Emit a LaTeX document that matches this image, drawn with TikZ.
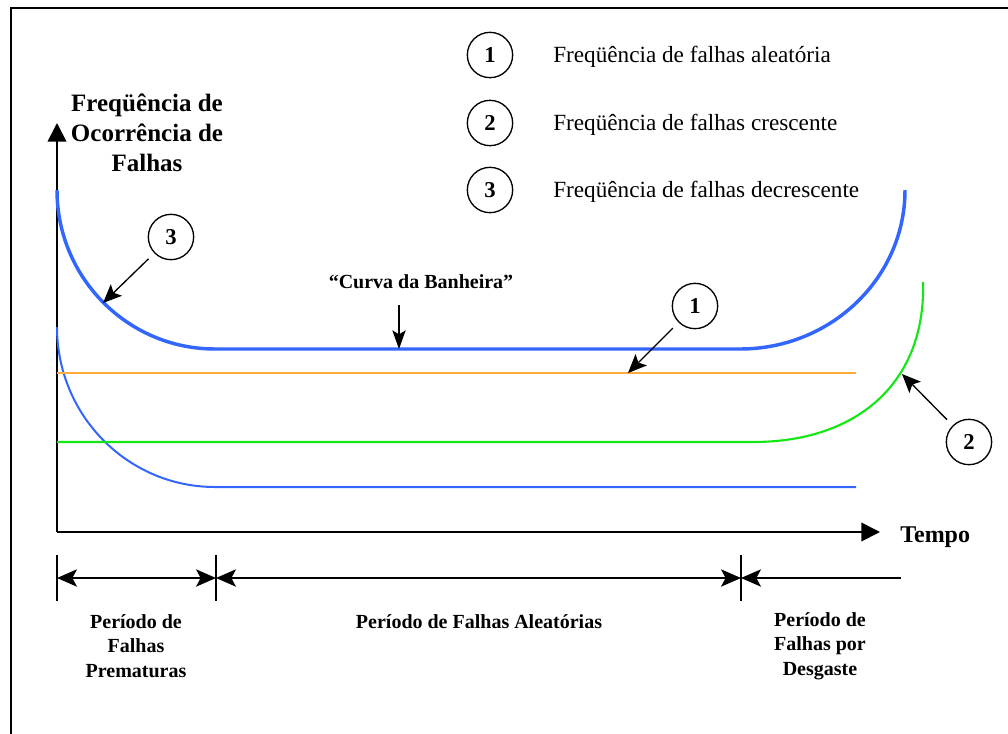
\documentclass[tikz,border=0pt]{standalone}
\usepackage{fontspec}
\setmainfont{Liberation Serif}
\usetikzlibrary{arrows.meta}
\definecolor{tubblue}{RGB}{51,102,255}
\definecolor{randorange}{RGB}{255,170,60}
\definecolor{weargreen}{RGB}{20,232,20}
\tikzset{
  periodhead/.tip={Stealth[length=15pt,width=13pt,inset=3.5pt]},
  callhead/.tip={Stealth[length=14pt,width=12pt,inset=3pt]}
}
\begin{document}
\begin{tikzpicture}[x=0.75pt,y=-0.75pt,
  frameline/.style={line width=1.5pt},
  axisline/.style={line width=1.3pt,-{Triangle[length=14pt,width=14pt]}},
  numcircle/.style={circle,draw,line width=1pt,minimum size=34pt,inner sep=0pt,
    font=\fontsize{17}{20}\selectfont\bfseries},
  legendtext/.style={anchor=base west,inner sep=0pt,font=\fontsize{17.4}{20}\selectfont},
  boldlabel/.style={inner sep=0pt,align=center,font=\fontsize{15}{18.3}\selectfont\bfseries},
  callout/.style={line width=1pt,-{callhead},shorten <=6pt},
  periodline/.style={line width=1.2pt},
  tickline/.style={line width=0.8pt}
]
\useasboundingbox (0,0) rectangle (1008,733);

% outer frame
\draw[frameline] (11,745) -- (11,8) -- (1020,8);

% axes
\coordinate (O) at (57,532);
\coordinate (ytip) at (57,123);
\coordinate (xtip) at (880,532);
\draw[axisline] (O) -- (ytip);
\draw[axisline] (O) -- (xtip);
\node[anchor=base west,inner sep=0pt,font=\fontsize{18}{20}\selectfont\bfseries] (tempo) at (900,542) {Tempo};
\node[boldlabel,font=\fontsize{18.75}{22.5}\selectfont\bfseries] (ylab) at (147,133)
  {Freqüência de\\Ocorrência de\\Falhas};

% lower curve (decreasing rate)
\draw[tubblue,line width=1.5pt] (57,327) .. controls (57,415.4) and (127.7,487) .. (215,487) -- (856,487);
% constant rate
\draw[randorange,line width=1.1pt] (57,373) -- (856,373);
% increasing rate
\draw[weargreen,line width=1.6pt] (57,442) -- (753,442) .. controls (860,442) and (926,380) .. (923,282);
% bathtub curve
\draw[tubblue,line width=2.6pt] (57,190) .. controls (57,277.8) and (127.7,349) .. (215,349)
  -- (740,349) .. controls (831.1,349) and (905,277.8) .. (905,190);

% legend
\node[numcircle] (L1) at (490,55) {1};
\node[numcircle] (L2) at (490,123) {2};
\node[numcircle] (L3) at (490,190) {3};
\node[legendtext] (T1) at (553,62) {Freqüência de falhas aleatória};
\node[legendtext] (T2) at (553,130) {Freqüência de falhas crescente};
\node[legendtext] (T3) at (553,197) {Freqüência de falhas decrescente};

% callouts on the curves
\node[numcircle] (n3) at (171,237) {3};
\coordinate (p3) at (103,303);
\draw[callout] (n3) -- (p3);
\node[numcircle] (n1) at (695,306) {1};
\coordinate (p1) at (628,373);
\draw[callout] (n1) -- (p1);
\node[numcircle] (n2) at (969,442) {2};
\coordinate (p2) at (902,374);
\draw[callout] (n2) -- (p2);

\node[boldlabel,anchor=base] (curva) at (421,288) {“Curva da Banheira”};
\coordinate (cbtop) at (399,305);
\coordinate (cb) at (399,349);
\draw[line width=1pt,-{Stealth[length=14pt,width=10pt,inset=3pt]}] (cbtop) -- (cb);

% time periods
\coordinate (t0) at (57,578);
\coordinate (t1) at (216,578);
\coordinate (t2) at (741,578);
\coordinate (t3) at (901,578);
\foreach \t in {t0,t1,t2}
  \draw[tickline] (\t) ++(0,-23) -- ++(0,46);
\draw[periodline,{periodhead}-{periodhead}] (t0) -- (t1);
\draw[periodline,{periodhead}-{periodhead}] (t1) -- (t2);
\draw[periodline,{periodhead}-] (t2) -- (t3);

\node[boldlabel] (pp) at (136,646) {Período de\\Falhas\\Prematuras};
\node[boldlabel,anchor=base] (pa) at (479,628) {Período de Falhas Aleatórias};
\node[boldlabel] (pd) at (820,646) {Período de\\Falhas por\\Desgaste};
\end{tikzpicture}
\end{document}
